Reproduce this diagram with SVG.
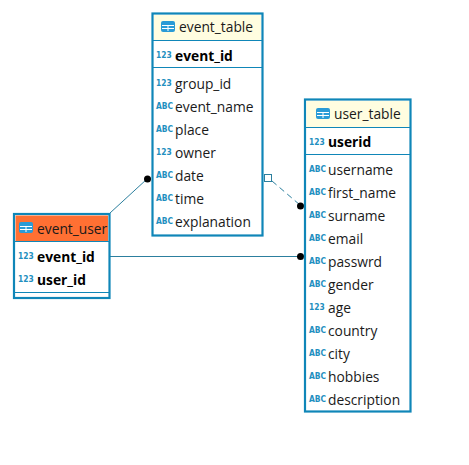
<svg xmlns="http://www.w3.org/2000/svg" width="469" height="465" viewBox="0 0 469 465">
<style>
.box{fill:#fff;stroke:#0f86b8;stroke-width:2.2}
.hy{fill:#fffde0}
.ho{fill:#ff7033}
.sep{stroke:#0f86b8;stroke-width:1;fill:none}
.t{font-family:"Open Sans","Noto Sans",sans-serif;font-size:13.8px;fill:#1a1a1a}
.b{font-family:"Open Sans","Noto Sans",sans-serif;font-size:13.8px;font-weight:700;fill:#000}
.i{font-family:"DejaVu Sans Condensed","DejaVu Sans",sans-serif;font-size:8.4px;font-weight:700;fill:#1f8fc0}
.ib{fill:#2a9bd6}
.il{stroke:#fff;stroke-width:1;fill:none}
.c{stroke:#2c7f9e;stroke-width:1;fill:none}
</style>
<defs>
<g id="tico"><rect class="ib" x="0" y="0" width="14" height="11" rx="2"/><path class="il" d="M1 4.500H13M7 4.500V10M1 7.500H13"/></g>
</defs>
<rect width="469" height="465" fill="#fff"/>
<g id="connectors">
<path class="c" d="M110 213L147 179"/>
<path class="c" d="M110 256.500H300"/>
<path class="c" d="M272 181L300 205" stroke-dasharray="6 4"/>
<circle cx="147.500" cy="179" r="3.500" fill="#000"/>
<circle cx="300.500" cy="256.500" r="3.500" fill="#000"/>
<circle cx="300.500" cy="206" r="3.500" fill="#000"/>
<rect x="264.500" y="174.500" width="7" height="7" fill="#fff" stroke="#2c7f9e"/>
</g>
<g id="event_table">
<rect class="box" x="152.500" y="13.500" width="110" height="222"/>
<rect class="hy" x="154" y="15" width="107" height="25"/>
<path class="sep" d="M153 40.500H262M153 67.500H262"/>
<use href="#tico" x="161" y="21"/>
<text class="t" x="179" y="32">event_table</text>
<text class="i" x="156" y="58">123</text><text class="b" x="175" y="61">event_id</text>
<text class="i" x="156" y="86">123</text><text class="t" x="175" y="89">group_id</text>
<text class="i" x="156" y="109">ABC</text><text class="t" x="175" y="112">event_name</text>
<text class="i" x="156" y="132">ABC</text><text class="t" x="175" y="135">place</text>
<text class="i" x="156" y="155">123</text><text class="t" x="175" y="158">owner</text>
<text class="i" x="156" y="178">ABC</text><text class="t" x="175" y="181">date</text>
<text class="i" x="156" y="201">ABC</text><text class="t" x="175" y="204">time</text>
<text class="i" x="156" y="224">ABC</text><text class="t" x="175" y="227">explanation</text>
</g>
<g id="user_table">
<rect class="box" x="305" y="99.500" width="105.500" height="312"/>
<rect class="hy" x="306.500" y="101" width="102.500" height="26"/>
<path class="sep" d="M305 127.500H410M305 154.500H410"/>
<use href="#tico" x="316" y="108"/>
<text class="t" x="334" y="119">user_table</text>
<text class="i" x="309" y="145">123</text><text class="b" x="328" y="147">userid</text>
<text class="i" x="309" y="172">ABC</text><text class="t" x="328" y="175">username</text>
<text class="i" x="309" y="195">ABC</text><text class="t" x="328" y="198">first_name</text>
<text class="i" x="309" y="218">ABC</text><text class="t" x="328" y="221">surname</text>
<text class="i" x="309" y="241">ABC</text><text class="t" x="328" y="244">email</text>
<text class="i" x="309" y="264">ABC</text><text class="t" x="328" y="267">passwrd</text>
<text class="i" x="309" y="287">ABC</text><text class="t" x="328" y="290">gender</text>
<text class="i" x="309" y="310">123</text><text class="t" x="328" y="313">age</text>
<text class="i" x="309" y="333">ABC</text><text class="t" x="328" y="336">country</text>
<text class="i" x="309" y="356">ABC</text><text class="t" x="328" y="359">city</text>
<text class="i" x="309" y="379">ABC</text><text class="t" x="328" y="382">hobbies</text>
<text class="i" x="309" y="402">ABC</text><text class="t" x="328" y="405">description</text>
</g>
<g id="event_user">
<rect class="box" x="14" y="214" width="95.500" height="84"/>
<rect class="ho" x="15.500" y="215.500" width="92.500" height="25.500"/>
<path class="sep" d="M15 241.500H109M15 292.500H109"/>
<use href="#tico" x="19" y="222"/>
<text class="t" x="37" y="234">event_user</text>
<text class="i" x="18" y="259">123</text><text class="b" x="37" y="262">event_id</text>
<text class="i" x="18" y="282">123</text><text class="b" x="37" y="285">user_id</text>
</g>
</svg>
